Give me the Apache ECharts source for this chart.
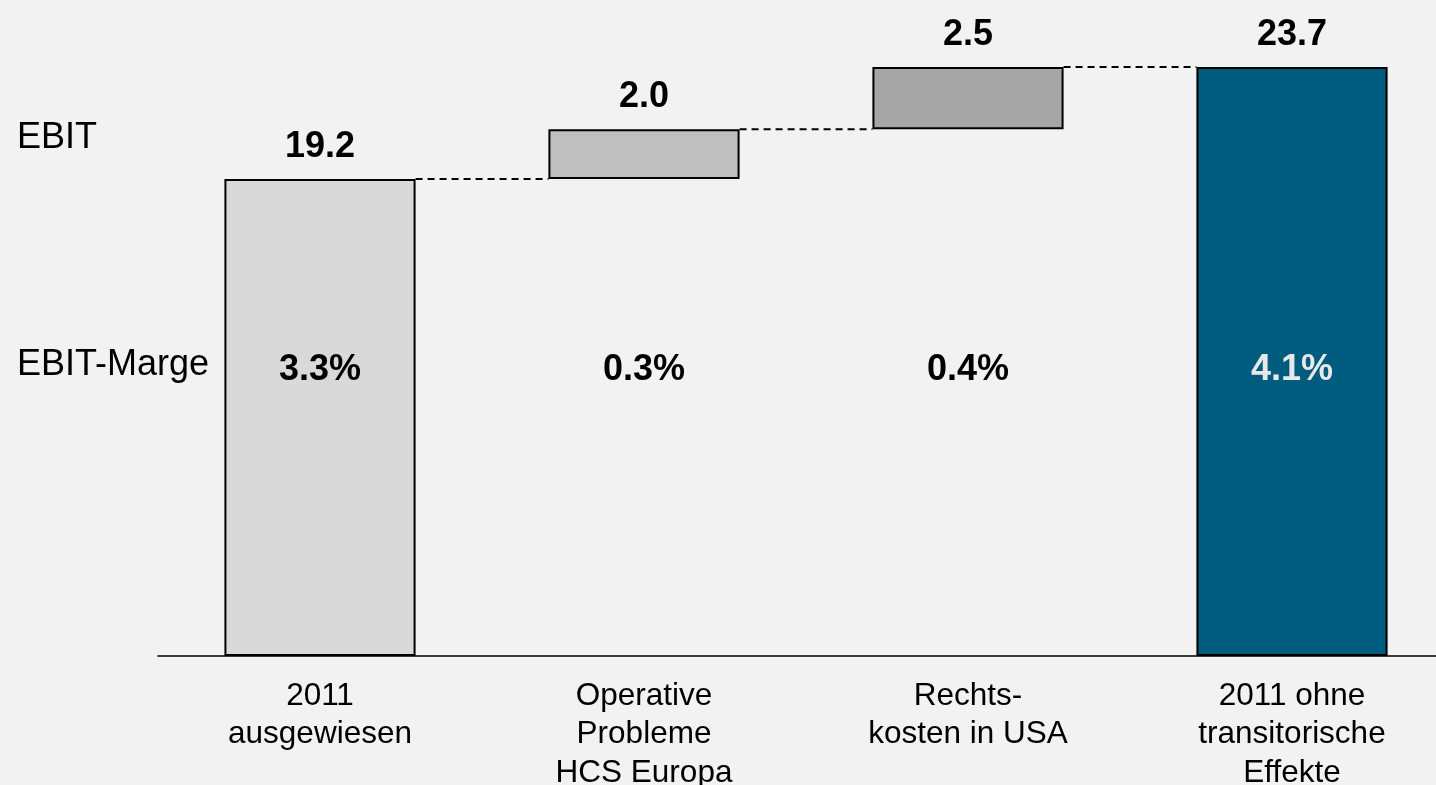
<!DOCTYPE html>
<html>
<head>
<meta charset="utf-8">
<script src="https://cdn.jsdelivr.net/npm/echarts@6/dist/echarts.min.js"></script>
<style>
  html, body { margin: 0; padding: 0; background: #f2f2f2; }
  #chart { width: 1436px; height: 785px; }
</style>
</head>
<body>
<div id="chart"></div>
<script>
// EBIT bridge (EUR m): reported 2011 -> adjusted 2011
const categories = ['2011\nausgewiesen', 'Operative\nProbleme\nHCS Europa', 'Rechts-\nkosten in USA', '2011 ohne\ntransitorische\nEffekte'];
const ebitValues = [19.2, 2.0, 2.5, 23.7];
const isTotal = [true, false, false, true];
const marginLabels = ['3.3%', '0.3%', '0.4%', '4.1%'];
const barColors = ['#d9d9d9', '#bfbfbf', '#a6a6a6', '#005c7e'];

const FONT = 'Arial, "Liberation Sans", Helvetica, sans-serif';
const Y_MAX = 26.4;
const MARGIN_ROW = 11.5;    // vertical position of the margin row, in axis units
const BAR_RATIO = 0.59;

// floating bases for the waterfall and the running level after each step
const bases = [];
const levels = [];
let running = 0;
ebitValues.forEach((v, i) => {
  if (isTotal[i]) { bases.push(0); running = v; }
  else { bases.push(running); running += v; }
  levels.push(running);
});

const connectorData = levels.slice(0, -1).map((lv, i) => [i, lv]);

const chart = echarts.init(document.getElementById('chart'));
chart.setOption({
  backgroundColor: '#f2f2f2',
  animation: false,
  grid: { left: 158, width: 1296, top: 0, height: 656, outerBoundsMode: 'none', containLabel: false },
  xAxis: {
    type: 'category',
    data: categories,
    axisLine: { show: true, lineStyle: { color: '#000', width: 1.5 } },
    axisTick: { show: false },
    axisLabel: {
      color: '#000', fontFamily: FONT, fontSize: 31.5, lineHeight: 38.5,
      margin: 21, interval: 0
    },
    z: 10
  },
  yAxis: { type: 'value', min: 0, max: Y_MAX, show: false, splitLine: { show: false } },
  graphic: [
    { type: 'text', left: 17, top: 120, style: { text: 'EBIT', font: '36px ' + FONT, fill: '#000' } },
    { type: 'text', left: 17, top: 347, style: { text: 'EBIT-Marge', font: '36px ' + FONT, fill: '#000' } }
  ],
  series: [
    {
      type: 'bar', stack: 'w', barWidth: (BAR_RATIO * 100) + '%',
      itemStyle: { color: 'transparent' },
      data: bases, silent: true
    },
    {
      type: 'bar', stack: 'w',
      data: ebitValues.map((v, i) => ({
        value: v,
        itemStyle: { color: barColors[i], borderColor: '#000', borderWidth: 2 }
      })),
      label: {
        show: true, position: 'top', distance: 14,
        fontFamily: FONT, fontSize: 36, fontWeight: 'bold', color: '#000',
        formatter: p => p.value.toFixed(1)
      }
    },
    {
      type: 'custom',
      data: connectorData,
      z: 5,
      renderItem: (params, api) => {
        const i = api.value(0), v = api.value(1);
        const p0 = api.coord([i, v]);
        const p1 = api.coord([i + 1, v]);
        const half = api.size([1, 0])[0] * BAR_RATIO / 2;
        return {
          type: 'line',
          shape: { x1: p0[0] + half, y1: p0[1], x2: p1[0] - half, y2: p1[1] },
          style: { stroke: '#000', lineWidth: 2, lineDash: [7, 5] }
        };
      }
    },
    {
      type: 'scatter',
      symbolSize: 0,
      z: 6,
      itemStyle: { opacity: 1 },
      data: marginLabels.map((t, i) => ({
        value: [i, MARGIN_ROW],
        label: { color: i === marginLabels.length - 1 ? '#e8e8e8' : '#000' }
      })),
      label: {
        show: true, position: 'inside', color: '#000',
        fontFamily: FONT, fontSize: 36, fontWeight: 'bold',
        formatter: p => marginLabels[p.dataIndex]
      },
      emphasis: { disabled: true }
    }
  ]
});
</script>
</body>
</html>
